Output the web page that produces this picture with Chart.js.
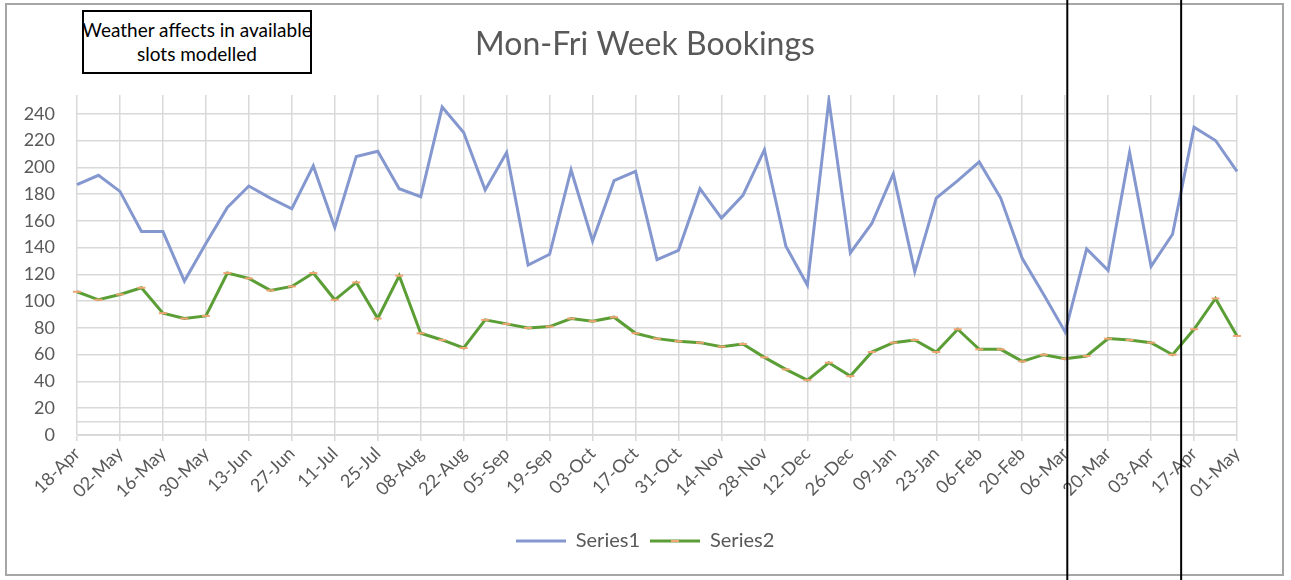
<!DOCTYPE html>
<html>
<head>
<meta charset="utf-8">
<title>Mon-Fri Week Bookings</title>
<script src="https://cdn.jsdelivr.net/npm/chart.js@4/dist/chart.umd.min.js"></script>
<style>
  html, body { margin: 0; padding: 0; background: #fff; }
  #wrap { position: relative; width: 1291px; height: 580px; }
  #frame { position: absolute; left: 5px; top: 3px; width: 1279px; height: 573px;
           border: 2px solid #a6a6a6; box-sizing: border-box; }
  #chart { position: absolute; left: 0; top: 0; }
  #note { position: absolute; left: 82px; top: 10px; width: 230px; height: 64px;
          border: 2px solid #000; box-sizing: border-box; font-family: Lato, sans-serif;
          font-size: 19px; line-height: 24px; color: #000; text-align: center;
          display: flex; align-items: center; justify-content: center; background: #fff;
          white-space: nowrap; }
</style>
</head>
<body>
<div id="wrap">
  <div id="frame"></div>
  <canvas id="chart" width="1291" height="580"></canvas>
  <div id="note">Weather affects in available<br>slots modelled</div>
</div>
<script>
// weekly booking counts, 18-Apr to 01-May
const weeks = [
  '18-Apr','25-Apr','02-May','09-May','16-May','23-May','30-May','06-Jun','13-Jun','20-Jun',
  '27-Jun','04-Jul','11-Jul','18-Jul','25-Jul','01-Aug','08-Aug','15-Aug','22-Aug','29-Aug',
  '05-Sep','12-Sep','19-Sep','26-Sep','03-Oct','10-Oct','17-Oct','24-Oct','31-Oct','07-Nov',
  '14-Nov','21-Nov','28-Nov','05-Dec','12-Dec','19-Dec','26-Dec','02-Jan','09-Jan','16-Jan',
  '23-Jan','30-Jan','06-Feb','13-Feb','20-Feb','27-Feb','06-Mar','13-Mar','20-Mar','27-Mar',
  '03-Apr','10-Apr','17-Apr','24-Apr','01-May'
];

const series1 = [
  187, 194, 182, 152, 152, 115, 143, 170, 186, 177,
  169, 201, 155, 208, 212, 184, 178, 245, 226, 183,
  211, 127, 135, 198, 145, 190, 197, 131, 138, 184,
  162, 179, 213, 141, 112, 250, 136, 158, 195, 122,
  177, 190, 204, 177, 132, 105, 77, 139, 123, 211,
  126, 150, 230, 220, 197
];

const series2 = [
  107, 101, 105, 110, 91, 87, 89, 121, 117, 108,
  111, 121, 101, 114, 87, 119, 76, 71, 65, 86,
  83, 80, 81, 87, 85, 88, 76, 72, 70, 69,
  66, 68, 58, 49, 41, 54, 44, 62, 69, 71,
  62, 79, 64, 64, 55, 60, 57, 59, 72, 71,
  69, 60, 79, 102, 74
];

const yTicks = [0, 10, 20, 40, 60, 80, 100, 120, 140, 160, 180, 200, 220, 240];
// the two hand-drawn dividers, in week-index units
const dividerAt = [46.1, 51.4];

const BLUE = '#8497cf';
const GREEN = '#5c9e36';
const ORANGE = '#f2a477';
const GRID = '#d9d9d9';
const TEXT = '#595959';
const FONT = 'Lato, "Open Sans", sans-serif';

// small legend swatches, line with optional marker
function swatch(color, marker) {
  const c = document.createElement('canvas');
  c.width = 50; c.height = 10;
  const g = c.getContext('2d');
  g.strokeStyle = color; g.lineWidth = 3;
  g.beginPath(); g.moveTo(0, 5); g.lineTo(50, 5); g.stroke();
  if (marker) {
    g.strokeStyle = marker; g.lineWidth = 2;
    g.beginPath(); g.moveTo(21, 5); g.lineTo(29, 5); g.stroke();
  }
  return c;
}

const dividers = {
  id: 'dividers',
  // padding.left is wide so title/legend centre like the original;
  // widen the y scale box afterwards so its labels aren't clipped
  afterLayout(chart) {
    chart.scales.y.left = 0;
  },
  afterDraw(chart) {
    const { ctx } = chart;
    const x = chart.scales.x;
    ctx.save();
    ctx.strokeStyle = '#000';
    ctx.lineWidth = 2;
    dividerAt.forEach(v => {
      const lo = Math.floor(v);
      const px = x.getPixelForValue(lo) + (v - lo) * (x.getPixelForValue(lo + 1) - x.getPixelForValue(lo));
      ctx.beginPath(); ctx.moveTo(px, 0); ctx.lineTo(px, chart.height); ctx.stroke();
    });
    ctx.restore();
  }
};

new Chart(document.getElementById('chart'), {
  type: 'line',
  data: {
    labels: weeks,
    datasets: [
      {
        label: 'Series1',
        data: series1,
        borderColor: BLUE,
        borderWidth: 3,
        pointRadius: 0,
        tension: 0,
      },
      {
        label: 'Series2',
        data: series2,
        borderColor: GREEN,
        borderWidth: 3,
        pointStyle: 'line',
        pointRadius: 4,
        pointBorderColor: ORANGE,
        pointBorderWidth: 2,
        tension: 0,
      },
    ],
  },
  options: {
    responsive: false,
    animation: false,
    layout: { padding: { left: 53, right: 54, top: 0, bottom: 19 } },
    plugins: {
      title: {
        display: true,
        text: 'Mon-Fri Week Bookings',
        color: TEXT,
        font: { family: FONT, size: 32, weight: 'normal' },
        padding: { top: 25, bottom: 31.6 },
      },
      legend: {
        position: 'bottom',
        labels: {
          color: TEXT,
          font: { family: FONT, size: 20 },
          usePointStyle: true,
          pointStyleWidth: 50,
          padding: 10,
          generateLabels: (chart) => [
            { text: 'Series1', pointStyle: swatch(BLUE), datasetIndex: 0, fontColor: TEXT, lineWidth: 0 },
            { text: 'Series2', pointStyle: swatch(GREEN, ORANGE), datasetIndex: 1, fontColor: TEXT, lineWidth: 0 },
          ],
        },
      },
      tooltip: { enabled: false },
    },
    scales: {
      x: {
        offset: false,
        afterBuildTicks: (scale) => { scale.ticks = scale.ticks.filter((t, i) => i % 2 === 0); },
        afterFit: (scale) => { scale.height = 86; },
        grid: { color: GRID, lineWidth: 1.5, tickLength: 6, tickColor: GRID },
        border: { color: GRID },
        ticks: {
          autoSkip: false,
          minRotation: 45,
          maxRotation: 45,
          color: TEXT,
          font: { family: FONT, size: 18 },
          padding: 2,
          callback: function (v) { return this.getLabelForValue(v); },
        },
      },
      y: {
        min: 0,
        max: 254,
        afterBuildTicks: (scale) => { scale.ticks = yTicks.map(v => ({ value: v })); },
        afterFit: (scale) => { scale.width = 24; },
        grid: { color: GRID, lineWidth: 1.5, drawTicks: false },
        border: { display: false },
        ticks: {
          color: TEXT,
          font: { family: FONT, size: 18 },
          padding: 22,
          callback: (v) => (v === 10 ? '' : v),
        },
      },
    },
  },
  plugins: [dividers],
});
</script>
</body>
</html>
